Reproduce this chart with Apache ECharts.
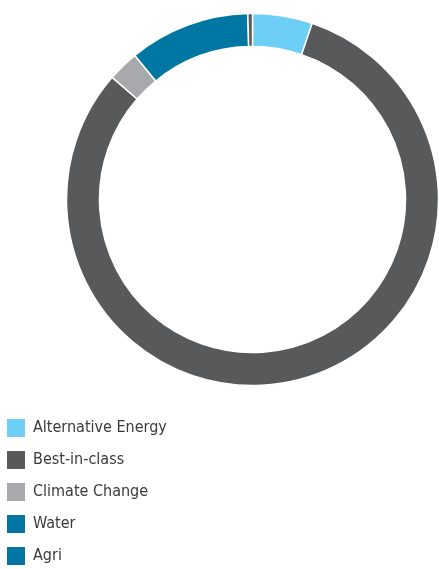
<!DOCTYPE html>
<html>
<head>
<meta charset="utf-8">
<script src="https://cdn.jsdelivr.net/npm/echarts@6/dist/echarts.min.js"></script>
<style>
html,body{margin:0;padding:0;background:#fff;}
#chart{width:439px;height:569px;}
</style>
</head>
<body>
<div id="chart"></div>
<script>
const categories = ['Alternative Energy', 'Best-in-class', 'Climate Change', 'Water', 'Agri'];
const values = [5.2, 81.2, 2.7, 10.5, 0.4];
const sliceColors = ['#6dcff6', '#58595b', '#a7a9ac', '#0077a3', '#58595b'];
const legendColors = ['#6dcff6', '#58595b', '#a7a9ac', '#0077a3', '#0077a3'];

const chart = echarts.init(document.getElementById('chart'));
chart.setOption({
  animation: false,
  backgroundColor: '#fff',
  legend: {
    orient: 'vertical',
    left: 7,
    top: 419,
    height: 200,
    padding: 0,
    itemWidth: 18,
    itemHeight: 18,
    itemGap: 14,
    icon: 'rect',
    selectedMode: false,
    itemStyle: { borderWidth: 0 },
    textStyle: {
      fontFamily: "'DejaVu Sans Condensed', 'Liberation Sans Narrow', 'Roboto', sans-serif",
      fontSize: 16,
      lineHeight: 18,
      color: '#3a3a3a',
      padding: [0, 0, 0, 3]
    },
    data: categories.map((c, i) => ({ name: c, itemStyle: { color: legendColors[i], borderWidth: 0 } }))
  },
  series: [{
    type: 'pie',
    center: [252.5, 199.5],
    radius: [153, 186],
    startAngle: 90,
    clockwise: true,
    label: { show: false },
    labelLine: { show: false },
    emphasis: { disabled: true },
    itemStyle: { borderColor: '#fff', borderWidth: 1.5 },
    data: categories.map((c, i) => ({ name: c, value: values[i], itemStyle: { color: sliceColors[i] } }))
  }]
});
</script>
</body>
</html>
